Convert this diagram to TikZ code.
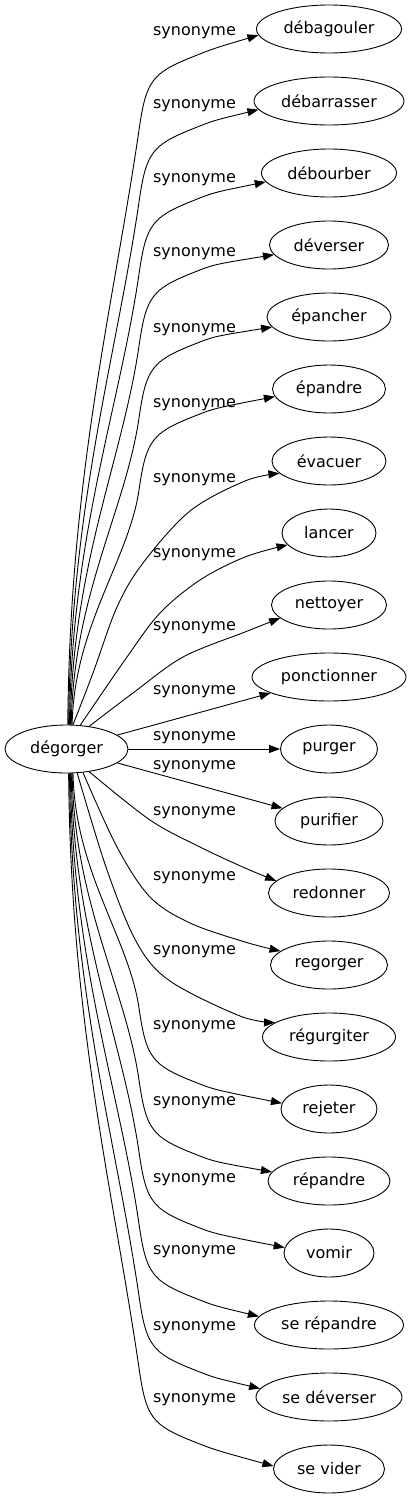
\documentclass[tikz,border=0pt]{standalone}
\usepackage{fontspec}
\setmainfont{DejaVu Sans}
\usetikzlibrary{shapes.geometric,arrows.meta}
\newcommand\synedge[5]{%
  \pgfmathsetmacro\seBy{#2+101*(#3)}%
  \pgfmathsetmacro\seFy{#2+27.5*(#3)}%
  \pgfmathsetmacro\seL{abs(\seBy+749)-24}%
  \pgfmathsetmacro\seCa{-(#3)*0.42*\seL}%
  \pgfmathsetmacro\seCbx{-0.0432*\seL}%
  \pgfmathsetmacro\seCby{0.297*\seL*(#3)}%
  \pgfmathsetmacro\seDa{-49.5*(#3)}%
  \pgfmathsetmacro\seDb{16.65*(#3)}%
  \pgfmathsetmacro\seEy{-8*(#3)}%
  \draw[syn] (dg.#4) .. controls +(2,\seCa) and +(\seCbx,\seCby) .. (139,\seBy)
    .. controls +(7.2,\seDa) and +(-41.85,\seDb) .. (193.5,\seFy)
    .. controls +(20,\seEy) .. (#1.#5);
}
\begin{document}
\begin{tikzpicture}[x=1pt,y=1pt,
  every node/.style={font=\fontsize{16}{19}\selectfont},
  term/.style={ellipse, draw, line width=0.9pt, minimum height=48pt, inner sep=0pt},
  lbl/.style={inner sep=0pt},
  syn/.style={line width=0.9pt, -{Triangle[length=11pt,width=8pt]}},
  sm/.style={smooth, tension=0.55}]
\useasboundingbox (0,0) rectangle (411,-1499);
% nodes
\node[term, minimum width=123pt] (dg) at (66.5,-749) {dégorger};
\node[term, minimum width=145pt] (n0) at (329,-29) {débagouler};
\node[term, minimum width=150pt] (n1) at (329,-101) {débarrasser};
\node[term, minimum width=135pt] (n2) at (329,-173) {débourber};
\node[term, minimum width=119pt] (n3) at (329,-245) {déverser};
\node[term, minimum width=124pt] (n4) at (329,-317) {épancher};
\node[term, minimum width=113pt] (n5) at (329,-389) {épandre};
\node[term, minimum width=114pt] (n6) at (329,-461) {évacuer};
\node[term, minimum width=94pt] (n7) at (329,-533) {lancer};
\node[term, minimum width=115pt] (n8) at (329,-605) {nettoyer};
\node[term, minimum width=154pt] (n9) at (329,-677) {ponctionner};
\node[term, minimum width=97pt] (n10) at (329,-749) {purger};
\node[term, minimum width=108pt] (n11) at (329,-821) {purifier};
\node[term, minimum width=121pt] (n12) at (329,-893) {redonner};
\node[term, minimum width=117pt] (n13) at (329,-965) {regorger};
\node[term, minimum width=133pt] (n14) at (329,-1037) {régurgiter};
\node[term, minimum width=96pt] (n15) at (329,-1109) {rejeter};
\node[term, minimum width=122pt] (n16) at (329,-1181) {répandre};
\node[term, minimum width=90pt] (n17) at (329,-1253) {vomir};
\node[term, minimum width=149pt] (n18) at (329,-1325) {se répandre};
\node[term, minimum width=146pt] (n19) at (329,-1397) {se déverser};
\node[term, minimum width=111pt] (n20) at (329,-1469) {se vider};
% labels
\node[lbl] (l0) at (194.5,-33) {synonyme};
\node[lbl] (l1) at (194.5,-106) {synonyme};
\node[lbl] (l2) at (194.5,-180) {synonyme};
\node[lbl] (l3) at (194.5,-254) {synonyme};
\node[lbl] (l4) at (194.5,-330) {synonyme};
\node[lbl] (l5) at (194.5,-405) {synonyme};
\node[lbl] (l6) at (194.5,-480) {synonyme};
\node[lbl] (l7) at (194.5,-555) {synonyme};
\node[lbl] (l8) at (194.5,-628) {synonyme};
\node[lbl] (l9) at (194.5,-692) {synonyme};
\node[lbl] (l10) at (194.5,-738) {synonyme};
\node[lbl] (l11) at (194.5,-767) {synonyme};
\node[lbl] (l12) at (194.5,-813) {synonyme};
\node[lbl] (l13) at (194.5,-878) {synonyme};
\node[lbl] (l14) at (194.5,-952) {synonyme};
\node[lbl] (l15) at (194.5,-1027) {synonyme};
\node[lbl] (l16) at (194.5,-1103) {synonyme};
\node[lbl] (l17) at (194.5,-1180) {synonyme};
\node[lbl] (l18) at (194.5,-1252) {synonyme};
\node[lbl] (l19) at (194.5,-1328) {synonyme};
\node[lbl] (l20) at (194.5,-1400) {synonyme};
% edges, top
\synedge{n0}{-29}{-1}{87}{185}
\synedge{n1}{-101}{-1}{85}{187}
\synedge{n2}{-173}{-1}{83}{188}
\synedge{n3}{-245}{-1}{81}{190}
\synedge{n4}{-317}{-1}{79}{190}
\synedge{n5}{-389}{-1}{77}{188}
\draw[syn] plot[sm] coordinates {(dg.75) (93,-673) (117,-607) (143,-563) (190,-511) (245,-481) (n6.194)};
\draw[syn] plot[sm] coordinates {(dg.60) (127,-657) (160,-613) (200,-580) (245,-557) (n7.196)};
\draw[syn] plot[sm] coordinates {(dg.45) (133,-693) (183,-657) (245,-632) (n8.195)};
% straight edges
\draw[syn] (dg) -- (n9);
\draw[syn] (dg) -- (n10);
\draw[syn] (dg) -- (n11);
% edges, bottom
\draw[syn] plot[sm] coordinates {(dg.-45) (150,-820) (200,-847) (245,-868) (n12.167)};
\draw[syn] plot[sm] coordinates {(dg.-55) (117,-847) (150,-897) (190,-923) (245,-942) (n13.164)};
\draw[syn] plot[sm] coordinates {(dg.-66) (107,-870) (137,-943) (170,-981) (240,-1016) (n14.165)};
\synedge{n15}{-1109}{1}{-75}{173}
\synedge{n16}{-1181}{1}{-77}{171}
\synedge{n17}{-1253}{1}{-79}{173}
\synedge{n18}{-1325}{1}{-81}{173}
\synedge{n19}{-1397}{1}{-83}{173}
\synedge{n20}{-1469}{1}{-85}{177}
\end{tikzpicture}
\end{document}
